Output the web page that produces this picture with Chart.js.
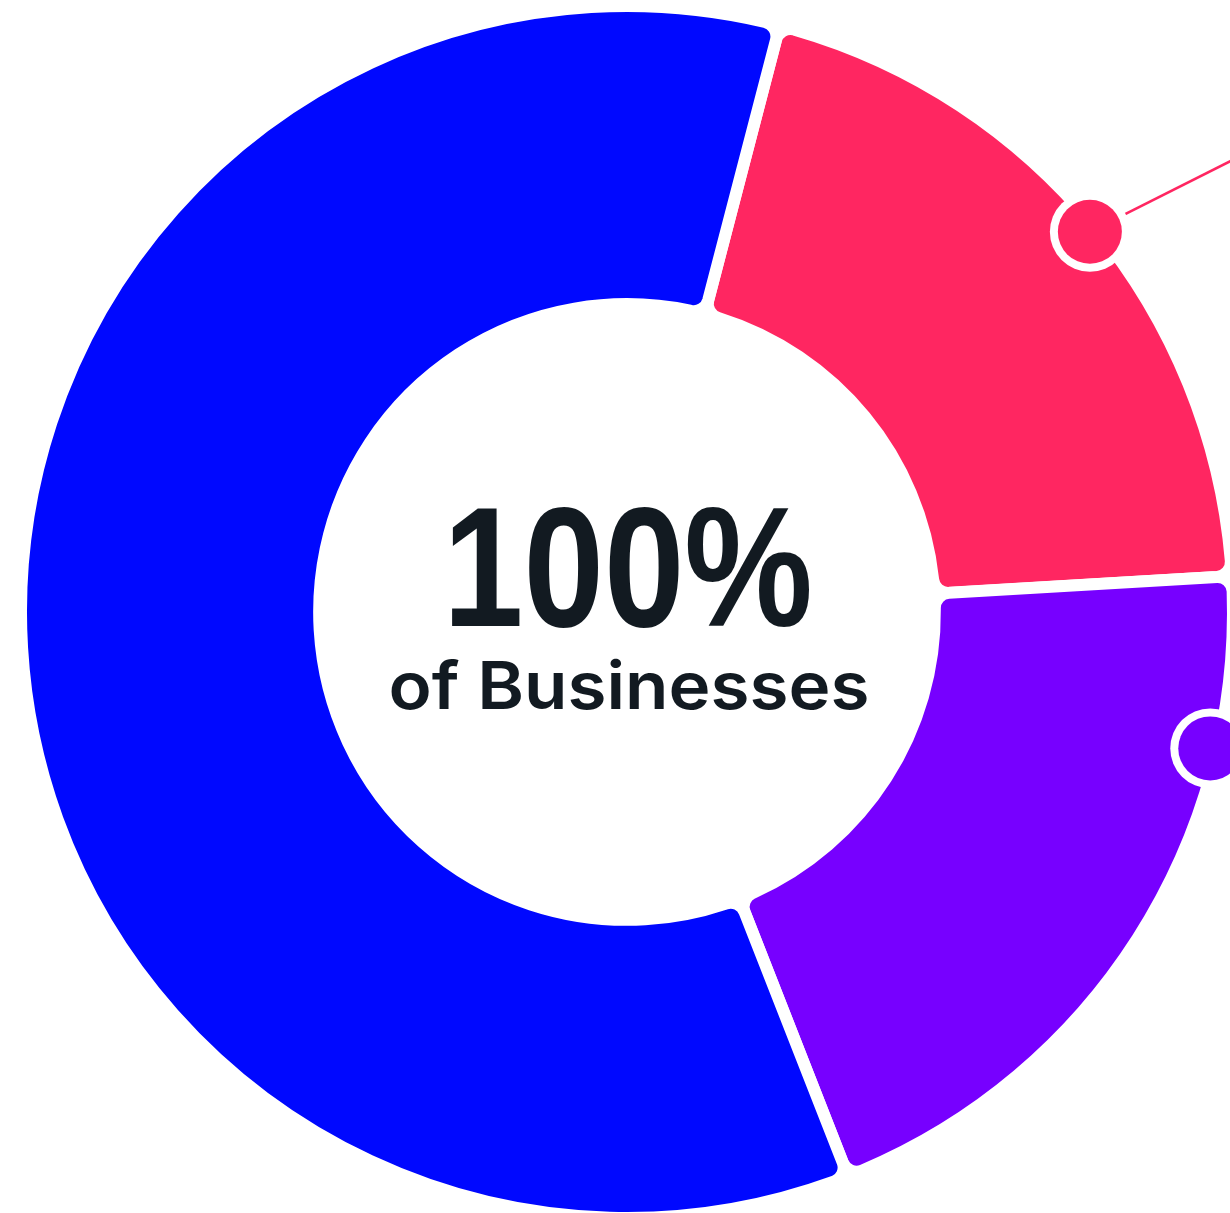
<!doctype html>
<html>
<head>
<meta charset="utf-8">
<title>Businesses Doughnut</title>
<script src="https://cdnjs.cloudflare.com/ajax/libs/Chart.js/4.4.1/chart.umd.min.js"></script>
<style>
  html, body { margin: 0; padding: 0; background: #fff; overflow: hidden; }
  #wrap { position: absolute; left: 0; top: 0; width: 1260px; height: 1230px; }
</style>
</head>
<body>
<div id="wrap"><canvas id="donut"></canvas></div>
<script>
// segment data, clockwise starting from the top-right
var categories = ['Segment 1', 'Segment 2', 'Segment 3'];
var shares = [20, 20, 60];
var colors = ['#FF2661', '#7700FF', '#0008FF'];
var startAngle = 14.6;

// where the marker dots sit along their segment (0 = start, 1 = end)
var markerSegments = [0, 1];
var markerPositions = [0.5, 0.23];

var centerTitle = '100%';
var centerSub = 'of Businesses';

var markerPlugin = {
  id: 'markers',
  afterDatasetsDraw: function(chart) {
    var ctx = chart.ctx;
    var arcs = chart.getDatasetMeta(0).data;
    ctx.save();
    markerSegments.forEach(function(idx, k) {
      var arc = arcs[idx];
      var a = arc.startAngle + markerPositions[k] * (arc.endAngle - arc.startAngle);
      var r = arc.outerRadius - 7;
      var x = arc.x + Math.cos(a) * r;
      var y = arc.y + Math.sin(a) * r;
      // leader line from the first marker
      if (k === 0) {
        var dir = -26.7 * Math.PI / 180;
        ctx.strokeStyle = colors[idx];
        ctx.lineWidth = 2.5;
        ctx.beginPath();
        ctx.moveTo(x, y);
        ctx.lineTo(x + Math.cos(dir) * 400, y + Math.sin(dir) * 400);
        ctx.stroke();
      }
      ctx.fillStyle = '#ffffff';
      ctx.beginPath();
      ctx.arc(x, y, 40, 0, Math.PI * 2);
      ctx.fill();
      ctx.fillStyle = colors[idx];
      ctx.beginPath();
      ctx.arc(x, y, 32, 0, Math.PI * 2);
      ctx.fill();
    });
    ctx.restore();
  }
};

var centerPlugin = {
  id: 'centerText',
  afterDraw: function(chart) {
    var ctx = chart.ctx;
    var arc = chart.getDatasetMeta(0).data[0];
    var cx = arc.x;
    ctx.save();
    ctx.fillStyle = '#121A21';
    ctx.textBaseline = 'alphabetic';
    ctx.textAlign = 'left';

    ctx.font = 'bold 170px "Liberation Sans", Arial, sans-serif';
    var w = ctx.measureText(centerTitle).width;
    var target = 370;
    ctx.save();
    ctx.translate(cx - target / 2 + 1, 626);
    ctx.scale(target / w, 1);
    ctx.fillText(centerTitle, 0, 0);
    ctx.restore();

    ctx.font = '600 66px Inter, "Liberation Sans", sans-serif';
    var w2 = ctx.measureText(centerSub).width;
    var target2 = 481;
    ctx.save();
    ctx.translate(cx - target2 / 2 + 2, 709);
    ctx.scale(target2 / w2, 1);
    ctx.fillText(centerSub, 0, 0);
    ctx.restore();

    ctx.restore();
  }
};

new Chart(document.getElementById('donut'), {
  type: 'doughnut',
  data: {
    labels: categories,
    datasets: [{
      data: shares,
      backgroundColor: colors,
      borderColor: '#ffffff',
      borderWidth: 12,
      borderRadius: 15,
      spacing: 0
    }]
  },
  options: {
    responsive: true,
    maintainAspectRatio: false,
    animation: false,
    rotation: startAngle,
    cutout: '50.8%',
    layout: { padding: { left: 15, right: 21, top: 0, bottom: 6 } },
    events: [],
    plugins: {
      legend: { display: false },
      tooltip: { enabled: false }
    }
  },
  plugins: [markerPlugin, centerPlugin]
});
</script>
</body>
</html>
